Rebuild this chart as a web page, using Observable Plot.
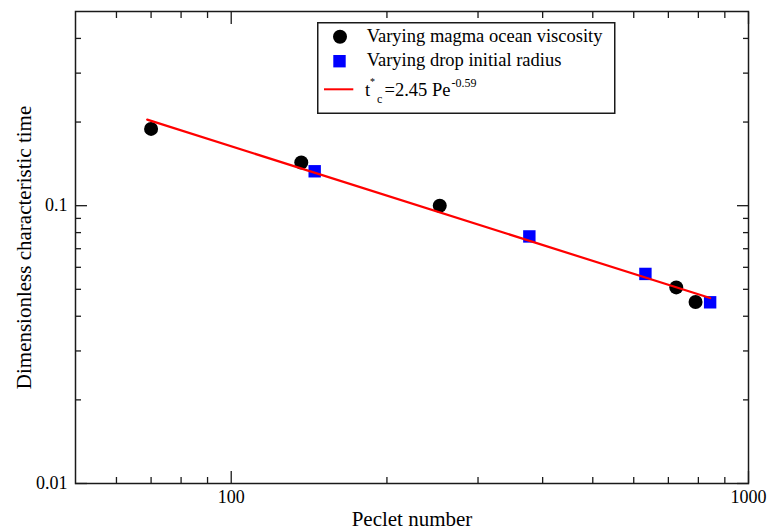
<!DOCTYPE html>
<html>
<head>
<meta charset="utf-8">
<script src="https://cdn.jsdelivr.net/npm/d3@7"></script>
<script src="https://cdn.jsdelivr.net/npm/@observablehq/plot@0.6"></script>
<style>
  html, body { margin: 0; padding: 0; background: #fff; }
  #wrap { position: relative; width: 770px; height: 531px; font-family: "Liberation Serif", "DejaVu Serif", serif; }
  #legend { position: absolute; left: 317px; top: 22px; }
</style>
</head>
<body>
<div id="wrap"></div>
<script>
// Data
const viscosityPe = [70, 136.6, 253, 725, 790];
const viscosityTc = [0.189, 0.143, 0.1, 0.0508, 0.045];
const radiusPe = [145, 377, 632, 843];
const radiusTc = [0.133, 0.0775, 0.0568, 0.0449];
const fitPe = [68.8, 843];
const fitTc = [0.204, 0.0465];

// Axis ticks
const xMajor = [100, 1000];
const xMinor = [60, 70, 80, 90, 200, 300, 400, 500, 600, 700, 800, 900];
const yMajor = [0.01, 0.1];
const yMinor = [0.02, 0.03, 0.04, 0.05, 0.06, 0.07, 0.08, 0.09, 0.2, 0.3, 0.4];

// Labels
const xLabel = "Peclet number";
const yLabel = "Dimensionless characteristic time";
const seriesNames = ["Varying magma ocean viscosity", "Varying drop initial radius"];

const viscosity = viscosityPe.map((x, i) => ({x, y: viscosityTc[i]}));
const radius = radiusPe.map((x, i) => ({x, y: radiusTc[i]}));
const fit = fitPe.map((x, i) => ({x, y: fitTc[i]}));

const serif = '"Liberation Serif", "DejaVu Serif", serif';
const ink = "#1a1a1a";
const blank = () => "";
const tickStyle = {stroke: ink, strokeWidth: 1.3, label: null};

const chart = Plot.plot({
  width: 770,
  height: 531,
  marginLeft: 75,
  marginRight: 22,
  marginTop: 11,
  marginBottom: 48,
  style: {fontFamily: serif, fontSize: "18px", color: "#000", background: "#fff"},
  x: {type: "log", domain: [50, 1000]},
  y: {type: "log", domain: [0.01, 0.5]},
  marks: [
    // bottom axis
    Plot.axisX({...tickStyle, anchor: "bottom", ticks: xMajor, tickSize: -12, tickPadding: 19, tickFormat: d => String(d), fontSize: 18, fill: "#000"}),
    Plot.axisX({...tickStyle, anchor: "bottom", ticks: xMinor, tickSize: -6, tickFormat: blank}),
    // top axis
    Plot.axisX({...tickStyle, anchor: "top", ticks: xMajor, tickSize: -12, tickFormat: blank}),
    Plot.axisX({...tickStyle, anchor: "top", ticks: xMinor, tickSize: -6, tickFormat: blank}),
    // left axis
    Plot.axisY({...tickStyle, anchor: "left", ticks: yMajor, tickSize: -12, tickPadding: 20, tickFormat: d => String(d), fontSize: 18, fill: "#000"}),
    Plot.axisY({...tickStyle, anchor: "left", ticks: yMinor, tickSize: -6, tickFormat: blank}),
    // right axis
    Plot.axisY({...tickStyle, anchor: "right", ticks: yMajor, tickSize: -12, tickFormat: blank}),
    Plot.axisY({...tickStyle, anchor: "right", ticks: yMinor, tickSize: -6, tickFormat: blank}),
    Plot.frame({stroke: ink, strokeWidth: 1.5}),
    // axis titles
    Plot.text([xLabel], {frameAnchor: "bottom", dy: 42, lineAnchor: "bottom", textAnchor: "middle", text: d => d, fontSize: 21, fill: "#000"}),
    Plot.text([yLabel], {frameAnchor: "left", dx: -51, rotate: -90, lineAnchor: "middle", textAnchor: "middle", text: d => d, fontSize: 21, fill: "#000"}),
    // data
    Plot.dot(viscosity, {x: "x", y: "y", r: 7, fill: "#000", stroke: "none", symbol: "circle"}),
    Plot.dot(radius, {x: "x", y: "y", r: 7, fill: "#0000ff", stroke: "none", symbol: "square"}),
    Plot.line(fit, {x: "x", y: "y", stroke: "#ff0000", strokeWidth: 2.2})
  ]
});

const wrap = document.getElementById("wrap");
wrap.appendChild(chart);

// Legend box
const ns = "http://www.w3.org/2000/svg";
const leg = document.createElementNS(ns, "svg");
leg.setAttribute("id", "legend");
leg.setAttribute("width", 299);
leg.setAttribute("height", 93);
leg.setAttribute("font-family", serif);
function el(tag, attrs, text) {
  const e = document.createElementNS(ns, tag);
  for (const k in attrs) e.setAttribute(k, attrs[k]);
  if (text != null) e.textContent = text;
  leg.appendChild(e);
  return e;
}
el("rect", {x: 0.75, y: 0.75, width: 297, height: 90.5, fill: "#fff", stroke: ink, "stroke-width": 1.5});
el("circle", {cx: 23, cy: 14.7, r: 7, fill: "#000"});
el("text", {x: 49.7, y: 19.7, "font-size": 18.5, fill: "#000"}, seriesNames[0]);
el("rect", {x: 16.3, y: 33, width: 12.4, height: 12.4, fill: "#0000ff"});
el("text", {x: 49.7, y: 44, "font-size": 18.5, fill: "#000"}, seriesNames[1]);
el("line", {x1: 7, x2: 36.3, y1: 67.3, y2: 67.3, stroke: "#ff0000", "stroke-width": 2});
el("text", {x: 48, y: 74, "font-size": 18.5, fill: "#000"}, "t");
el("text", {x: 53, y: 63, "font-size": 10, fill: "#000"}, "*");
el("text", {x: 60, y: 81, "font-size": 12, fill: "#000"}, "c");
el("text", {x: 67.5, y: 74, "font-size": 18.5, fill: "#000"}, "=2.45 Pe");
el("text", {x: 134.5, y: 65, "font-size": 12, fill: "#000"}, "-0.59");
wrap.appendChild(leg);
</script>
</body>
</html>
